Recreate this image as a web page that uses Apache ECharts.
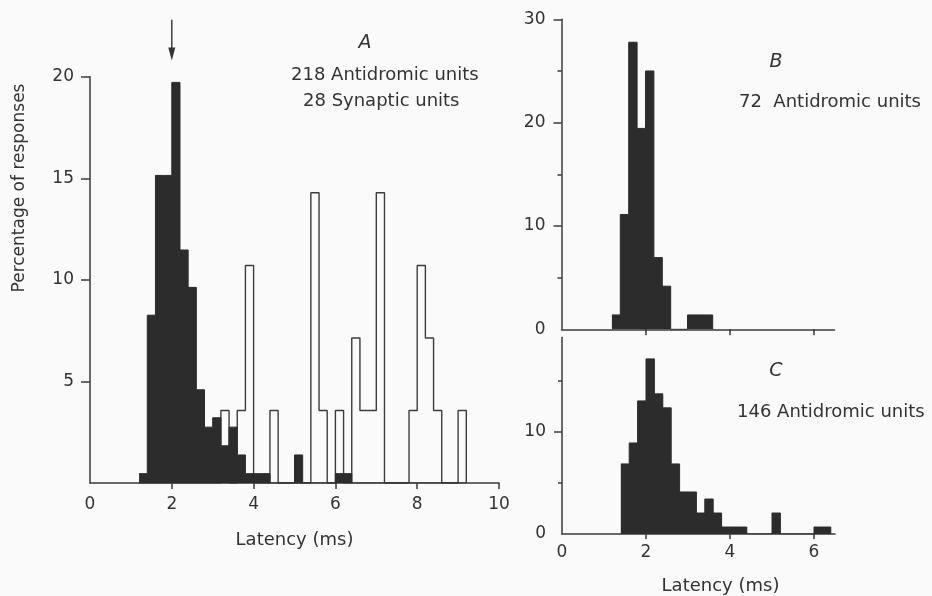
<!DOCTYPE html>
<html><head><meta charset="utf-8">
<script src="https://cdn.jsdelivr.net/npm/echarts@6/dist/echarts.min.js"></script>
<style>html,body{margin:0;padding:0;background:#fafafa}#c{width:932px;height:596px}</style>
</head><body><div id="c"></div>
<script>
// ---------- DATA ----------
// Panel A: bin edges (ms) and percentage of responses per 0.2 ms bin
const aEdges = [1.2,1.4,1.6,1.8,2.0,2.2,2.4,2.6,2.8,3.0,3.2,3.4,3.6,3.8,4.0,4.2,4.4,4.6,4.8,5.0,5.2,5.4,5.6,5.8,6.0,6.2,6.4,6.6,6.8,7.0,7.2,7.4,7.6,7.8,8.0,8.2,8.4,8.6,8.8,9.0,9.2];
const aAntidromic = [0.46,8.26,15.14,15.14,19.72,11.47,9.63,4.59,2.75,3.21,1.83,2.75,1.38,0.46,0.46,0.46,0,0,0,1.38,0,0,0,0,0.46,0.46,0,0,0,0,0,0,0,0,0,0,0,0,0,0];
const aSynaptic = [0,0,0,0,0,0,0,0,0,0,3.57,0,3.57,10.71,0,0,3.57,0,0,0,0,14.29,3.57,0,3.57,0,7.14,3.57,3.57,14.29,0,0,0,3.57,10.71,7.14,3.57,0,0,3.57];
// Panel B
const bEdges = [1.2,1.4,1.6,1.8,2.0,2.2,2.4,2.6,2.8,3.0,3.2,3.4,3.6];
const bAntidromic = [1.39,11.11,27.78,19.44,25.0,6.94,4.17,0,0,1.39,1.39,1.39];
// Panel C
const cEdges = [1.4,1.6,1.8,2.0,2.2,2.4,2.6,2.8,3.0,3.2,3.4,3.6,3.8,4.0,4.2,4.4,4.6,4.8,5.0,5.2,5.4,5.6,5.8,6.0,6.2,6.4];
const cAntidromic = [6.85,8.90,13.01,17.12,13.70,12.33,6.85,4.11,4.11,2.05,3.42,2.05,0.68,0.68,0.68,0,0,0,2.05,0,0,0,0,0.68,0.68];
// Tick labels
const aXTicks = [0,2,4,6,8,10];
const aYTicks = [5,10,15,20];
const bYTicks = [0,10,20,30];
const bYMinor = [5,15,25];
const cXTicks = [0,2,4,6];
const cYTicks = [0,10];
const cYMinor = [5,15];
const arrowLatency = 2.0;

// ---------- CHART ----------
const FONT = 'DejaVu Sans';
const INK = '#333';
const AX = '#3a3a3a';
const FILL = '#2c2c2c';
function steps(edges, vals){ return edges.map((e,i)=>[e, i<vals.length ? vals[i] : 0]); }
const axLine = {show:true, onZero:false, lineStyle:{color:AX, width:1.5}};
const lbl = (vals, margin)=>({customValues:vals, margin:margin, fontFamily:FONT, fontSize:17, color:INK});
const tick = (vals, len)=>({show:true, customValues:vals, length:len, lineStyle:{color:AX, width:1.5}});

const chart = echarts.init(document.getElementById('c'), null, {renderer:'canvas'});
chart.setOption({
  backgroundColor:'#fafafa',
  animation:false,
  grid:[
    {left:90, top:76.7, width:409, height:406.3},
    {left:561.5, top:19.3, width:273, height:310},
    {left:562, top:337.6, width:273, height:196.4}
  ],
  xAxis:[
    {gridIndex:0, type:'value', min:0, max:10, interval:2, axisLine:axLine, axisTick:tick([2,4,6,8,10],6),
     axisLabel:lbl(aXTicks,13), splitLine:{show:false},
     name:'Latency (ms)', nameLocation:'middle', nameGap:48, nameTextStyle:{fontFamily:FONT, fontSize:18, color:INK}},
    {gridIndex:1, type:'value', min:0, max:6.5, interval:2, axisLine:axLine, axisTick:tick([2,4,6],6),
     axisLabel:{show:false}, splitLine:{show:false}},
    {gridIndex:2, type:'value', min:0, max:6.5, interval:2, axisLine:axLine, axisTick:tick([2,4,6],5),
     axisLabel:lbl(cXTicks,10), splitLine:{show:false},
     name:'Latency (ms)', nameLocation:'middle', nameGap:43, nameTextStyle:{fontFamily:FONT, fontSize:18, color:INK, padding:[0,0,0,44]}}
  ],
  yAxis:[
    {gridIndex:0, type:'value', min:0, max:20, interval:5, axisLine:axLine, axisTick:tick(aYTicks,9),
     axisLabel:lbl(aYTicks,16), splitLine:{show:false}},
    {gridIndex:1, type:'value', min:0, max:30, interval:10, axisLine:axLine, axisTick:tick([10,20,30],8),
     axisLabel:lbl(bYTicks,16), splitLine:{show:false}},
    {gridIndex:1, type:'value', min:0, max:30, position:'left', axisLine:{show:false}, axisTick:tick(bYMinor,4),
     axisLabel:{show:false}, splitLine:{show:false}},
    {gridIndex:2, type:'value', min:0, max:19.2, interval:10, axisLine:axLine, axisTick:tick([10],8),
     axisLabel:lbl(cYTicks,16), splitLine:{show:false}},
    {gridIndex:2, type:'value', min:0, max:19.2, position:'left', axisLine:{show:false}, axisTick:tick(cYMinor,4),
     axisLabel:{show:false}, splitLine:{show:false}}
  ],
  series:[
    {name:'28 Synaptic units', type:'line', xAxisIndex:0, yAxisIndex:0, step:'end', symbol:'none', z:2,
     lineStyle:{color:'#3c3c3c', width:1.4}, data:steps(aEdges, aSynaptic)},
    {name:'218 Antidromic units', type:'line', xAxisIndex:0, yAxisIndex:0, step:'end', symbol:'none', z:3,
     lineStyle:{color:FILL, width:1}, areaStyle:{color:FILL, opacity:1}, data:steps(aEdges, aAntidromic)},
    {name:'72 Antidromic units', type:'line', xAxisIndex:1, yAxisIndex:1, step:'end', symbol:'none', z:3,
     lineStyle:{color:FILL, width:1}, areaStyle:{color:FILL, opacity:1}, data:steps(bEdges, bAntidromic)},
    {name:'146 Antidromic units', type:'line', xAxisIndex:2, yAxisIndex:3, step:'end', symbol:'none', z:3,
     lineStyle:{color:FILL, width:1}, areaStyle:{color:FILL, opacity:1}, data:steps(cEdges, cAntidromic)},
    {name:'arrow', type:'custom', xAxisIndex:0, yAxisIndex:0, clip:false, z:4, silent:true,
     data:[[arrowLatency, 22.8, 20.8]],
     renderItem:function(params, api){
       const top = api.coord([api.value(0), api.value(1)]);
       const tip = api.coord([api.value(0), api.value(2)]);
       return {type:'group', children:[
         {type:'line', shape:{x1:top[0], y1:top[1], x2:tip[0], y2:tip[1]-8}, style:{stroke:'#333', lineWidth:1.4}},
         {type:'polygon', shape:{points:[[tip[0],tip[1]],[tip[0]-3.5,tip[1]-13],[tip[0]+3.5,tip[1]-13]]}, style:{fill:'#333'}}
       ]};
     }}
  ],
  graphic:[
    {type:'text', x:19.5, y:188, rotation:Math.PI/2, style:{text:'Percentage of responses', font:'17px "DejaVu Sans"', fill:INK, textAlign:'center', textVerticalAlign:'middle'}},
    {type:'text', x:365, y:43, style:{text:'A', font:'italic 19px "DejaVu Sans"', fill:INK, textAlign:'center', textVerticalAlign:'middle'}},
    {type:'text', x:291, y:75, style:{text:'218 Antidromic units', font:'18px "DejaVu Sans"', fill:INK, textAlign:'left', textVerticalAlign:'middle'}},
    {type:'text', x:303, y:101, style:{text:'28 Synaptic units', font:'18px "DejaVu Sans"', fill:INK, textAlign:'left', textVerticalAlign:'middle'}},
    {type:'text', x:776, y:62, style:{text:'B', font:'italic 19px "DejaVu Sans"', fill:INK, textAlign:'center', textVerticalAlign:'middle'}},
    {type:'text', x:739, y:102, style:{text:'72  Antidromic units', font:'18px "DejaVu Sans"', fill:INK, textAlign:'left', textVerticalAlign:'middle'}},
    {type:'text', x:776, y:371, style:{text:'C', font:'italic 19px "DejaVu Sans"', fill:INK, textAlign:'center', textVerticalAlign:'middle'}},
    {type:'text', x:737, y:412, style:{text:'146 Antidromic units', font:'18px "DejaVu Sans"', fill:INK, textAlign:'left', textVerticalAlign:'middle'}}
  ]
});
</script></body></html>
